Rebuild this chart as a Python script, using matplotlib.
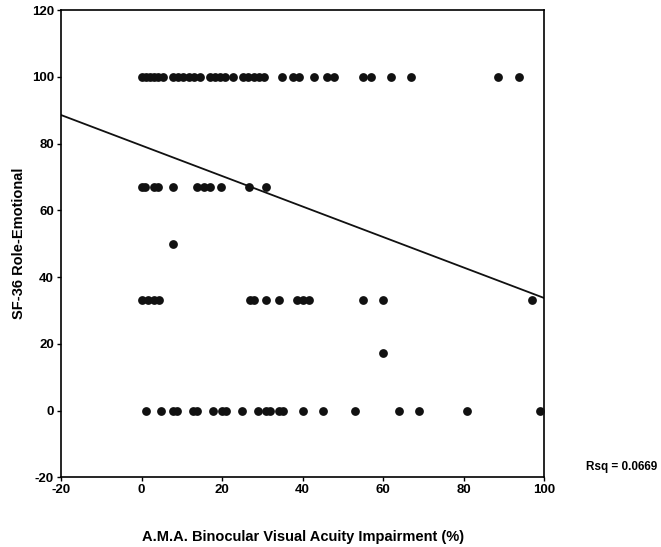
import matplotlib
matplotlib.use("Agg")
import matplotlib.pyplot as plt
import numpy as np

plt.rcParams['font.family'] = ['Liberation Sans', 'DejaVu Sans']
plt.rcParams['axes.unicode_minus'] = False

# impairment (%) values, grouped by SF-36 score row
x_100 = [0, 1, 2, 3, 4, 5.3, 7.8, 9, 10.4, 11.7, 13, 14.5, 17, 18.2, 19.5, 20.7,
         22.7, 25.2, 26.5, 27.8, 29.1, 30.4, 34.9, 37.6, 39.1, 42.8, 46, 47.8,
         55, 57, 61.9, 66.9, 88.5, 93.7]
x_67 = [0, 0.8, 3, 4, 7.7, 13.7, 15.5, 17, 19.7, 26.6, 30.8]
x_50 = [7.7]
x_33 = [0, 1.5, 3, 4.4, 27, 28, 30.8, 34, 38.6, 40, 41.6, 55, 59.9, 96.9]
x_17 = [59.9]
x_0 = [1, 4.9, 7.8, 8.8, 12.7, 13.8, 17.8, 19.9, 20.9, 25, 29, 30.9, 31.9,
       34.1, 35.2, 40.1, 45.1, 53.1, 64, 68.9, 80.9, 98.9]

rows = [(100, x_100), (67, x_67), (50, x_50), (33, x_33), (17.3, x_17), (0, x_0)]

fit_intercept = 79.4
fit_slope = -0.457
rsq_text = "Rsq = 0.0669"

xticks = [-20, 0, 20, 40, 60, 80, 100]
yticks = [-20, 0, 20, 40, 60, 80, 100, 120]

fig = plt.figure(figsize=(6.61, 5.47), dpi=100)
ax = fig.add_axes([0.0923, 0.1274, 0.7312, 0.8543])

for score, xs in rows:
    ax.scatter(xs, [score] * len(xs), s=40, color="#111111", linewidths=0, zorder=3)

fx = np.array([-20, 100])
ax.plot(fx, fit_intercept + fit_slope * fx, color="#111111", lw=1.3, zorder=2)

ax.set_xlim(-20, 100)
ax.set_ylim(-20, 120)
ax.set_xticks(xticks)
ax.set_yticks(yticks)
ax.tick_params(direction="out", length=3, width=1, labelsize=9.5, pad=2)
for lbl in ax.get_xticklabels() + ax.get_yticklabels():
    lbl.set_fontweight("bold")
for sp in ax.spines.values():
    sp.set_linewidth(1.2)

ax.set_ylabel("SF-36 Role-Emotional", fontsize=10.5, fontweight="bold", labelpad=4)
ax.set_xlabel("A.M.A. Binocular Visual Acuity Impairment (%)", fontsize=10.5,
              fontweight="bold", labelpad=24)
fig.text(0.941, 0.146, rsq_text, fontsize=8.5, fontweight="bold", ha="center", va="center")

fig.savefig("out.png", dpi=100)
